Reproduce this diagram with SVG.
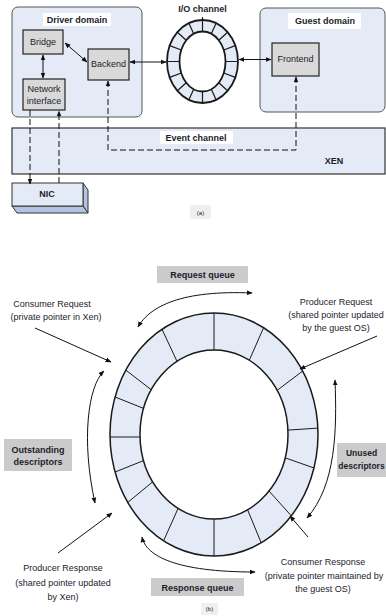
<svg xmlns="http://www.w3.org/2000/svg" width="386" height="616" viewBox="0 0 386 616">
  <defs>
    <marker id="ah" viewBox="0 0 10 10" refX="9" refY="5" markerWidth="6" markerHeight="6" markerUnits="userSpaceOnUse" orient="auto-start-reverse">
      <path d="M0,1 L10,5 L0,9 z" fill="#111"/>
    </marker>
    <style>
      text { font-family: "Liberation Sans", Arial, sans-serif; fill: #1c1c2c; }
      .t { font-size: 9px; font-weight: bold; text-anchor: middle; }
      .n { font-size: 9px; text-anchor: middle; }
      .s { font-size: 6px; text-anchor: middle; }
      .domain { fill: #e5ebf6; stroke: #555; stroke-width: 1; }
      .band { fill: #e5ebf6; stroke: #333; stroke-width: 1.2; }
      .box { fill: #d9d9d9; stroke: #222; stroke-width: 1.2; }
      .wlab { fill: #ffffff; }
      .glab { fill: #cbcbcb; }
      .ring { fill: #e5ebf6; fill-rule: evenodd; stroke: #1a1a1a; }
      .seg { stroke: #1a1a1a; fill: none; }
      .c { stroke: #111; stroke-width: 1; fill: none; }
      .d { stroke: #111; stroke-width: 1; fill: none; stroke-dasharray: 6 3; }
      .arr2 { marker-start: url(#ah); marker-end: url(#ah); }
      .arr1 { marker-end: url(#ah); }
    </style>
  </defs>
  <rect width="386" height="616" fill="#ffffff"/>

  <!-- ===== (a) split driver model ===== -->
  <g id="xen">
    <rect class="band" x="12" y="128" width="373" height="46"/>
    <rect class="wlab" x="160" y="131" width="73" height="13"/>
    <text class="t" x="196" y="141">Event channel</text>
    <text class="t" x="334" y="164">XEN</text>
  </g>

  <g id="driver-domain">
    <rect class="domain" x="12" y="7" width="130" height="110" rx="6"/>
    <rect class="wlab" x="43" y="13" width="68" height="13"/>
    <text class="t" x="77" y="22.5">Driver domain</text>
  </g>

  <g id="guest-domain">
    <rect class="domain" x="260" y="8" width="125" height="104" rx="6"/>
    <rect class="wlab" x="288" y="13" width="73" height="16"/>
    <text class="t" x="325" y="24">Guest domain</text>
  </g>

  <g id="bridge">
    <rect class="box" x="23" y="30" width="40" height="24"/>
    <text class="n" x="43" y="45">Bridge</text>
  </g>

  <g id="backend">
    <rect class="box" x="88" y="49" width="41" height="31"/>
    <text class="n" x="108.5" y="67">Backend</text>
  </g>

  <g id="network-interface">
    <rect class="box" x="23" y="79" width="42" height="31"/>
    <text class="n" x="44" y="92">Network</text>
    <text class="n" x="44" y="104">interface</text>
  </g>

  <g id="frontend">
    <rect class="box" x="272" y="43" width="47" height="33"/>
    <text class="n" x="295.5" y="62">Frontend</text>
  </g>

  <g id="nic">
    <path d="M83,183 L88,190 L88,213 L83,206 Z" fill="#b3c4e3" stroke="#333" stroke-width="1"/>
    <path d="M12,206 L83,206 L88,213 L17,213 Z" fill="#b3c4e3" stroke="#333" stroke-width="1"/>
    <rect x="12" y="183" width="71" height="23" fill="#e5ebf6" stroke="#333" stroke-width="1"/>
    <text class="t" x="47" y="197">NIC</text>
  </g>

  <g id="io-channel">
    <text class="t" x="202.5" y="12">I/O channel</text>
    <path class="ring" stroke-width="1.8" d="M238,61.5 A35.5,41.5 0 1 0 167,61.5 A35.5,41.5 0 1 0 238,61.5 Z M225.5,61.5 A23,30 0 1 0 179.5,61.5 A23,30 0 1 0 225.5,61.5 Z"/>
    <path class="seg" stroke-width="1.2" d="M238,61.5 L225.5,61.5 M235.3,45.6 L223.75,50 M227.6,32.2 L218.8,40.3 M216.1,23.2 L211.3,33.8 M202.5,17 L202.5,31.5 M188.9,23.2 L193.7,33.8 M177.4,32.2 L186.2,40.3 M169.7,45.6 L181.25,50 M167,61.5 L179.5,61.5 M169.7,77.4 L181.25,73 M177.4,90.8 L186.2,82.7 M188.9,99.8 L193.7,89.2 M202.5,103 L202.5,91.5 M216.1,99.8 L211.3,89.2 M227.6,90.8 L218.8,82.7 M235.3,77.4 L223.75,73"/>
  </g>

  <g id="connectors-a">
    <line class="c arr2" x1="43" y1="55" x2="43" y2="78"/>
    <line class="c arr2" x1="65" y1="43" x2="87" y2="62"/>
    <line class="c arr2" x1="130" y1="62" x2="166" y2="62"/>
    <line class="c arr2" x1="239" y1="59.5" x2="271" y2="59.5"/>
    <line class="d arr1" x1="30" y1="110" x2="30" y2="184"/>
    <line class="d arr1" x1="59" y1="183" x2="59" y2="111"/>
    <path class="d arr2" d="M108,81 V150 H296 V77"/>
  </g>

  <g id="label-a">
    <rect x="190" y="205" width="21" height="14" fill="#efefef"/>
    <text class="s" x="200.5" y="214.5">(a)</text>
  </g>

  <!-- ===== (b) shared I/O ring ===== -->
  <g id="descriptor-ring">
    <path class="ring" stroke-width="1.5" d="M318,434.5 A104,121.5 0 1 0 110,434.5 A104,121.5 0 1 0 318,434.5 Z M288,434.5 A74,84.5 0 1 0 140,434.5 A74,84.5 0 1 0 288,434.5 Z"/>
    <path class="seg" stroke-width="1" d="M214,313 L214,350 M263.6,327.7 L249.3,360.2 M302.7,371 L277.1,390.4 M317.9,428.1 L287.9,430.1 M314,468 L285.1,457.8 M291.3,515.8 L269,491 M261.2,542.8 L247.6,509.8 M214,556 L214,519 M163.6,540.8 L178.1,508.4 M127.8,502.4 L152.7,481.8 M115.1,472 L143.6,460.6 M110.1,437 L140.1,437 M115.1,397 L143.6,408.4 M125.8,370.1 L151.2,389.7 M162,329.3 L177,361.3"/>
  </g>

  <g id="request-queue">
    <rect class="glab" x="157" y="266" width="91" height="17"/>
    <text class="t" x="202.5" y="278">Request queue</text>
  </g>

  <g id="response-queue">
    <rect class="glab" x="151" y="578" width="93" height="18"/>
    <text class="t" x="197.5" y="590.5">Response queue</text>
  </g>

  <g id="outstanding">
    <rect class="glab" x="4" y="439" width="68" height="32"/>
    <text class="t" x="38" y="453">Outstanding</text>
    <text class="t" x="38" y="465">descriptors</text>
  </g>

  <g id="unused">
    <rect class="glab" x="337" y="443" width="49" height="34"/>
    <text class="t" x="361.5" y="456" style="font-size:8.5px">Unused</text>
    <text class="t" x="361.5" y="469" style="font-size:8.5px">descriptors</text>
  </g>

  <g id="consumer-request">
    <text class="n" x="52" y="307">Consumer Request</text>
    <text class="n" x="56" y="320">(private pointer in Xen)</text>
  </g>

  <g id="producer-request">
    <text class="n" x="336" y="305">Producer  Request</text>
    <text class="n" x="336" y="318">(shared pointer updated</text>
    <text class="n" x="336" y="331">by the guest OS)</text>
  </g>

  <g id="producer-response">
    <text class="n" x="63" y="571">Producer  Response</text>
    <text class="n" x="63" y="586">(shared pointer updated</text>
    <text class="n" x="63" y="600">by Xen)</text>
  </g>

  <g id="consumer-response">
    <text class="n" x="323" y="565">Consumer  Response</text>
    <text class="n" x="324" y="579">(private  pointer maintained by</text>
    <text class="n" x="323" y="592">the guest OS)</text>
  </g>

  <g id="connectors-b">
    <path class="c arr2" d="M138,327 C150,306 182,290 252,293"/>
    <line class="c arr1" x1="35" y1="328" x2="111" y2="362"/>
    <path class="c arr2" d="M104,371 C88,386 81,440 95,503"/>
    <line class="c arr1" x1="58" y1="553" x2="112" y2="513"/>
    <path class="c arr2" d="M142,537 C146,556 176,572 255,572"/>
    <line class="c arr1" x1="308" y1="537" x2="290" y2="516"/>
    <path class="c arr2" d="M335,380 C337,430 336,485 307,518"/>
    <line class="c arr1" x1="377" y1="336" x2="300" y2="369"/>
  </g>

  <g id="label-b">
    <rect x="201" y="603" width="17" height="12" fill="#efefef"/>
    <text class="s" x="209.5" y="611">(b)</text>
  </g>
</svg>
